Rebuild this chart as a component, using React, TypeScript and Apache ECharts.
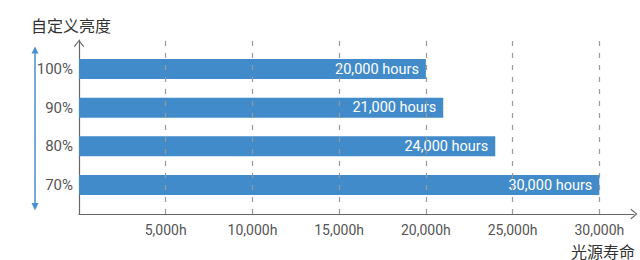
import React, { useEffect, useRef } from 'react';
import * as echarts from 'echarts';

// bottom to top
const categories = ['70%', '80%', '90%', '100%'];
const lifetimeHours = [30000, 24000, 21000, 20000];
const xTickValues = [5000, 10000, 15000, 20000, 25000, 30000];
const yTitle = '自定义亮度';
const xTitle = '光源寿命';

const fmt = (v: number) => v.toLocaleString('en-US');

export default function App() {
  const ref = useRef<HTMLDivElement>(null);
  useEffect(() => {
    const chart = echarts.init(ref.current!, null, { renderer: 'svg' });
    // interleave blank slots so the axis extends past the bars
    const slots: string[] = [''];
    const data: (number | null)[] = [null];
    categories.forEach((c, i) => {
      slots.push(c, '');
      data.push(lifetimeHours[i], null);
    });
    const chevron = 'path://M0,6 L5,0 L10,6 L9,6.7 L5,1.5 L1,6.7 Z';
    const font = 'Roboto, "Noto Sans CJK SC", sans-serif';
    const axisColor = '#666';
    const barColor = '#428bca';
    chart.setOption({
      animation: false,
      textStyle: { fontFamily: font },
      grid: { left: 79, right: 6, top: 40, bottom: 46, containLabel: false },
      xAxis: {
        type: 'value',
        min: 0,
        max: 32000,
        interval: 5000,
        axisLine: {
          show: true,
          symbol: ['none', chevron],
          symbolSize: [11, 7],
          lineStyle: { color: axisColor, width: 1.2 },
        },
        axisTick: { show: false },
        splitLine: { show: false },
        axisLabel: {
          color: '#555',
          fontSize: 14,
          fontFamily: font,
          margin: 9,
          formatter: (v: number) => (v > 0 && v % 5000 === 0 ? fmt(v) + 'h' : ''),
        },
      },
      yAxis: {
        type: 'category',
        data: slots,
        axisLine: {
          show: true,
          symbol: ['none', chevron],
          symbolSize: [13, 7],
          symbolOffset: [0, -3.5],
          lineStyle: { color: axisColor, width: 1.2 },
        },
        axisTick: { show: false },
        axisLabel: { color: '#555', fontSize: 15, fontFamily: font, margin: 6, interval: 0 },
      },
      series: [
        {
          type: 'bar',
          data,
          barWidth: 20,
          itemStyle: { color: barColor },
          label: {
            show: true,
            position: 'insideRight',
            distance: 7,
            color: '#fff',
            fontSize: 14.5,
            fontFamily: font,
            formatter: (p: any) => fmt(p.value) + ' hours',
          },
          markLine: {
            silent: true,
            symbol: ['none', 'none'],
            label: { show: false },
            lineStyle: { color: '#999', type: [5, 7], width: 1.2 },
            data: xTickValues.map((v) => ({ xAxis: v })),
          },
        },
      ],
      graphic: [
        {
          type: 'text',
          left: 31,
          top: 18,
          style: { text: yTitle, fill: '#333', font: `16px ${font}` },
        },
        {
          type: 'text',
          right: 5,
          top: 244,
          style: { text: xTitle, fill: '#333', font: `16px ${font}` },
        },
        {
          type: 'line',
          shape: { x1: 35, y1: 52, x2: 35, y2: 204 },
          style: { stroke: '#4a8fd0', lineWidth: 1.5 },
        },
        {
          type: 'polygon',
          shape: { points: [[35, 46.5], [31.5, 53.5], [38.5, 53.5]] },
          style: { fill: '#4a8fd0' },
        },
        {
          type: 'polygon',
          shape: { points: [[35, 210.5], [31.5, 203], [38.5, 203]] },
          style: { fill: '#4a8fd0' },
        },
      ],
    });
    return () => chart.dispose();
  }, []);
  return (
    <div
      ref={ref}
      style={{ position: 'fixed', left: 0, top: 0, width: 640, height: 260, background: '#fff' }}
    />
  );
}
